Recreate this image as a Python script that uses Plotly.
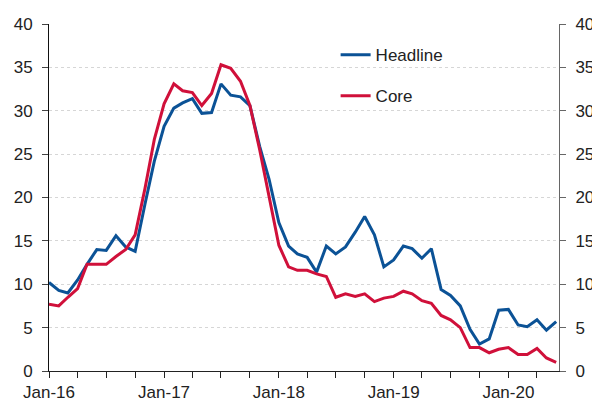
import plotly.graph_objects as go
import pandas as pd

months = pd.date_range("2016-01-01", periods=54, freq="MS")

headline = [10.2, 9.3, 9.0, 10.5, 12.3, 14.0, 13.9, 15.6, 14.3, 13.8,
            19.2, 24.2, 28.2, 30.3, 30.9, 31.4, 29.7, 29.8, 33.1, 31.8,
            31.6, 30.6, 25.9, 22.1, 17.1, 14.4, 13.5, 13.1, 11.4, 14.4,
            13.5, 14.3, 16.0, 17.8, 15.7, 12.0, 12.8, 14.4, 14.1, 13.0,
            14.1, 9.4, 8.7, 7.5, 4.8, 3.1, 3.7, 7.0, 7.1, 5.3,
            5.1, 5.9, 4.7, 5.7]

core = [7.7, 7.5, 8.5, 9.5, 12.3, 12.3, 12.3, 13.2, 14.0, 15.7,
        21.0, 26.7, 30.8, 33.1, 32.3, 32.1, 30.6, 32.0, 35.3, 34.9,
        33.4, 30.6, 25.5, 20.1, 14.5, 12.0, 11.6, 11.6, 11.2, 10.9,
        8.5, 8.9, 8.6, 8.9, 8.0, 8.4, 8.6, 9.2, 8.9, 8.1,
        7.8, 6.4, 5.9, 5.0, 2.7, 2.7, 2.1, 2.5, 2.7, 1.9,
        1.9, 2.6, 1.5, 1.0]

series_names = ["Headline", "Core"]
colors = ["#0B5296", "#D0103A"]

FONT = "Liberation Sans, Arial, sans-serif"
fs = 17

fig = go.Figure()
fig.add_trace(go.Scatter(x=months, y=headline, mode="lines", name=series_names[0],
                         line=dict(color=colors[0], width=3), legendgroup="a"))
fig.add_trace(go.Scatter(x=months, y=core, mode="lines", name=series_names[1],
                         line=dict(color=colors[1], width=3), legendgroup="b"))
# invisible trace to anchor right axis
fig.add_trace(go.Scatter(x=[months[0]], y=[0], yaxis="y2", mode="markers",
                         marker=dict(opacity=0), showlegend=False, hoverinfo="skip"))

# page body has an 8px margin, so the figure is sized to the visible area
fig.update_layout(
    width=592, height=395,
    margin=dict(l=41, r=41, t=16, b=31.5),
    paper_bgcolor="white", plot_bgcolor="white",
    font=dict(family=FONT, size=fs, color="#222222"),
    showlegend=True,
    legend=dict(x=0.562, y=0.962, xanchor="left", yanchor="top",
                bgcolor="rgba(0,0,0,0)", tracegroupgap=16,
                font=dict(family=FONT, size=fs, color="#222222"),
                itemwidth=30),
    xaxis=dict(
        type="date", automargin=False,
        range=["2016-01-01", "2020-06-10"],
        tick0="2016-01-01", dtick="M12", tickformat="%b-%y",
        ticks="outside", ticklen=6, tickcolor="#222222",
        showline=True, linecolor="#222222", linewidth=1,
        showgrid=False, zeroline=False,
        minor=dict(dtick="M3", tick0="2016-01-01", ticks="outside", ticklen=6,
                   tickcolor="#222222", showgrid=False),
        tickfont=dict(family=FONT, size=fs, color="#222222"),
    ),
    yaxis=dict(
        range=[0, 40], dtick=5, tick0=0, automargin=False,
        ticks="outside", ticklen=6, tickcolor="#444444",
        showline=True, linecolor="#111111", linewidth=1,
        showgrid=True, gridcolor="#d6d6d6", griddash="dot", gridwidth=1,
        zeroline=False,
        ticklabelstandoff=6,
        tickfont=dict(family=FONT, size=fs, color="#222222"),
    ),
    yaxis2=dict(
        range=[0, 40], dtick=5, tick0=0, overlaying="y", side="right",
        automargin=False,
        ticks="outside", ticklen=6, tickcolor="#666666",
        showline=True, linecolor="#666666", linewidth=1,
        showgrid=False, zeroline=False,
        ticklabelstandoff=6,
        tickfont=dict(family=FONT, size=fs, color="#222222"),
    ),
)

fig.write_html("out.html")
